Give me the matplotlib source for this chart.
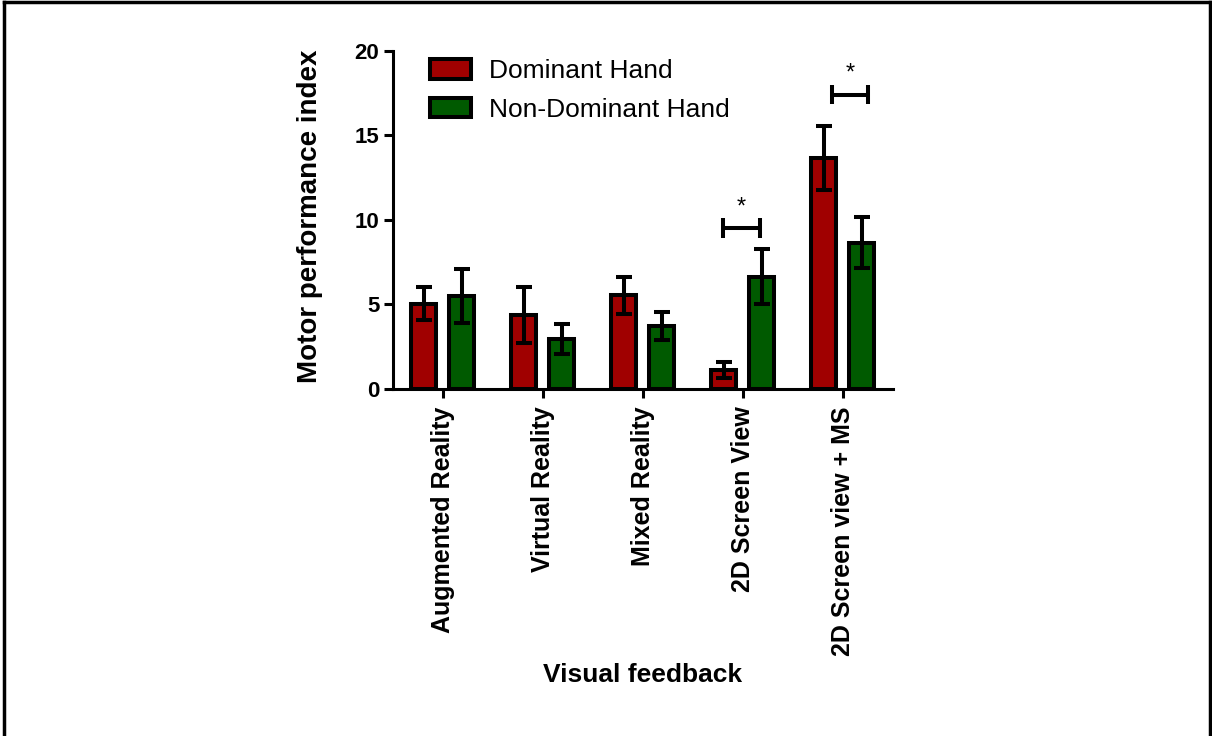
import matplotlib.pyplot as plt
import matplotlib.lines as mlines
import numpy as np

plt.rcParams['font.family'] = ['Liberation Sans', 'DejaVu Sans']

categories = ['Augmented Reality', 'Virtual Reality', 'Mixed Reality',
              '2D Screen View', '2D Screen view + MS']
dominant = [5.05, 4.35, 5.55, 1.1, 13.65]
dominant_err = [1.0, 1.65, 1.1, 0.48, 1.9]
non_dominant = [5.5, 2.95, 3.7, 6.65, 8.65]
non_dominant_err = [1.62, 0.9, 0.83, 1.6, 1.52]

# significance brackets: (x start, x end, height)
sig_x0 = [2.80, 3.89]
sig_x1 = [3.17, 4.25]
sig_y = [9.5, 17.4]

red = '#a00000'
green = '#005a00'
lw = 2.2
blw = 2.9

fig = plt.figure(figsize=(12.12, 7.36), dpi=100)
ax = fig.add_axes([0.3240, 0.4715, 0.4128, 0.4596])

x = np.arange(len(categories))
w = 0.25
off = 0.19
ax.bar(x - off, dominant, w, color=red, edgecolor='black', linewidth=blw,
       label='Dominant Hand', zorder=2)
ax.bar(x + off, non_dominant, w, color=green, edgecolor='black', linewidth=blw,
       label='Non-Dominant Hand', zorder=2)
ax.errorbar(x - off, dominant, yerr=dominant_err, fmt='none', ecolor='black',
            elinewidth=blw, capsize=6, capthick=blw, zorder=3)
ax.errorbar(x + off, non_dominant, yerr=non_dominant_err, fmt='none', ecolor='black',
            elinewidth=blw, capsize=6, capthick=blw, zorder=3)

for a, b, h in zip(sig_x0, sig_x1, sig_y):
    ax.plot([a, b], [h, h], color='black', lw=blw, solid_capstyle='butt')
    ax.plot([a, a], [h - 0.58, h + 0.58], color='black', lw=blw, solid_capstyle='butt')
    ax.plot([b, b], [h - 0.58, h + 0.58], color='black', lw=blw, solid_capstyle='butt')
    ax.text((a + b) / 2, h + 0.6, '*', ha='center', va='bottom', fontsize=17)

ax.set_xlim(-0.5, 4.5)
ax.set_ylim(0, 20)
ax.set_yticks([0, 5, 10, 15, 20])
ax.set_xticks(x)
ax.set_xticklabels(categories, rotation=90, fontsize=18, fontweight='bold')
for lab in ax.get_yticklabels():
    lab.set_fontsize(16)
    lab.set_fontweight('bold')
ax.tick_params(axis='both', width=lw, length=6.5, color='black')
ax.tick_params(axis='y', pad=3)
ax.tick_params(axis='x', pad=6)
for s in ['top', 'right']:
    ax.spines[s].set_visible(False)
for s in ['left', 'bottom']:
    ax.spines[s].set_linewidth(lw)

ax.set_ylabel('Motor performance index', fontsize=20, fontweight='bold')
ax.yaxis.set_label_coords(-0.139, 0.51)
ax.set_xlabel('Visual feedback', fontsize=19, fontweight='bold')
ax.xaxis.set_label_coords(0.5, -0.81)

ax.legend(loc='upper left', bbox_to_anchor=(0.074, 0.975), frameon=False,
          fontsize=19, handlelength=1.55, handleheight=0.75, handletextpad=0.7,
          labelspacing=0.55, borderpad=0, borderaxespad=0)

# outer frame (top, left, right)
for xs, ys in [([0.003, 0.998], [0.997, 0.997]),
               ([0.003, 0.003], [0.0, 0.997]),
               ([0.998, 0.998], [0.0, 0.997])]:
    fig.add_artist(mlines.Line2D(xs, ys, color='black', lw=2.5,
                                 transform=fig.transFigure))

plt.savefig('out.png', dpi=100)
